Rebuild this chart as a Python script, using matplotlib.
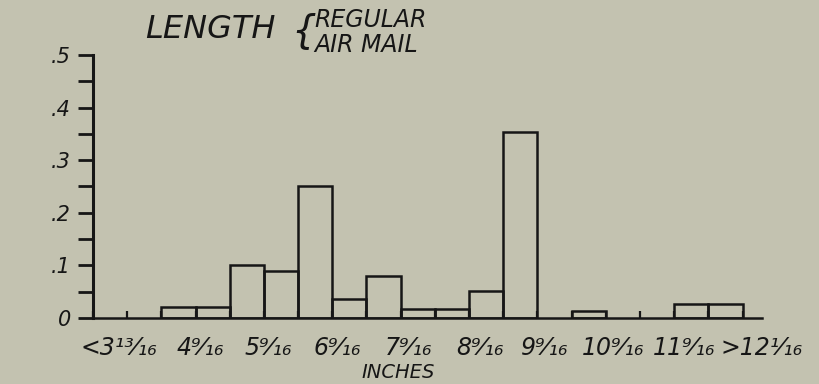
import numpy as np
import matplotlib.pyplot as plt

# ============================================================
# DATA (19 bins)
# ============================================================

heights = [0.0, 0.0, 0.021, 0.021, 0.100, 0.089, 0.251, 0.036, 0.080,
           0.017, 0.017, 0.051, 0.354, 0.0, 0.013, 0.0, 0.0, 0.027, 0.027]

tick_pos = [0.77, 3.15, 5.14, 7.16, 9.23, 11.33, 13.2, 15.2, 17.3, 19.57]
tick_labels = ["<3¹³⁄₁₆", "4⁹⁄₁₆", "5⁹⁄₁₆", "6⁹⁄₁₆", "7⁹⁄₁₆",
               "8⁹⁄₁₆", "9⁹⁄₁₆", "10⁹⁄₁₆", "11⁹⁄₁₆", ">12¹⁄₁₆"]

y_ticks = [0.0, 0.1, 0.2, 0.3, 0.4, 0.5]
y_labels = ["0", ".1", ".2", ".3", ".4", ".5"]

# ============================================================
# STYLE
# ============================================================

bg = "#c3c2b0"
ink = "#161616"

plt.rcParams["font.family"] = ["DejaVu Sans"]
plt.rcParams["font.style"] = "italic"

fig = plt.figure(figsize=(8.2, 3.84), dpi=100, facecolor=bg)
ax = fig.add_axes([93 / 820, 66 / 384, 669 / 820, 263 / 384])
ax.set_facecolor(bg)

# ============================================================
# BARS
# ============================================================

x = np.arange(len(heights))
h = np.array(heights)
mask = h > 0
ax.bar(x[mask], h[mask], width=1.0, align="edge", fill=False,
       edgecolor=ink, linewidth=1.8)

ax.set_xlim(0, len(heights))
ax.set_ylim(0, 0.5)

for s in ["top", "right"]:
    ax.spines[s].set_visible(False)
ax.spines["left"].set_linewidth(2.2)
ax.spines["bottom"].set_linewidth(1.8)
ax.spines["left"].set_color(ink)
ax.spines["bottom"].set_color(ink)

# y ticks, major + minor same length
ax.set_yticks(y_ticks)
ax.set_yticklabels(y_labels, fontsize=15, color=ink)
ax.set_yticks(np.arange(0.05, 0.5, 0.1), minor=True)
ax.tick_params(axis="y", which="both", direction="out", length=11,
               width=2.0, color=ink, pad=5)

# x ticks: labels only, small inward marks at bin edges
ax.set_xticks(tick_pos)
ax.set_xticklabels(tick_labels, fontsize=17, color=ink)
ax.tick_params(axis="x", which="major", length=0, pad=13)
ax.set_xticks(np.arange(0, len(heights) + 1), minor=True)
ax.tick_params(axis="x", which="minor", direction="in", length=5,
               width=1.6, color=ink)

fig.text(398 / 820, 1 - 372 / 384, "INCHES", fontsize=14, color=ink,
         ha="center", va="center")

# title
fig.text(145 / 820, 1 - 30 / 384, "LENGTH", fontsize=23, color=ink,
         ha="left", va="center")
fig.text(291 / 820, 1 - 31 / 384, "{", fontsize=28, color=ink,
         ha="left", va="center", fontweight="light")
fig.text(314 / 820, 1 - 20 / 384, "REGULAR", fontsize=17, color=ink,
         ha="left", va="center")
fig.text(314 / 820, 1 - 45 / 384, "AIR MAIL", fontsize=17, color=ink,
         ha="left", va="center")

plt.savefig("out.png", dpi=100, facecolor=bg)
